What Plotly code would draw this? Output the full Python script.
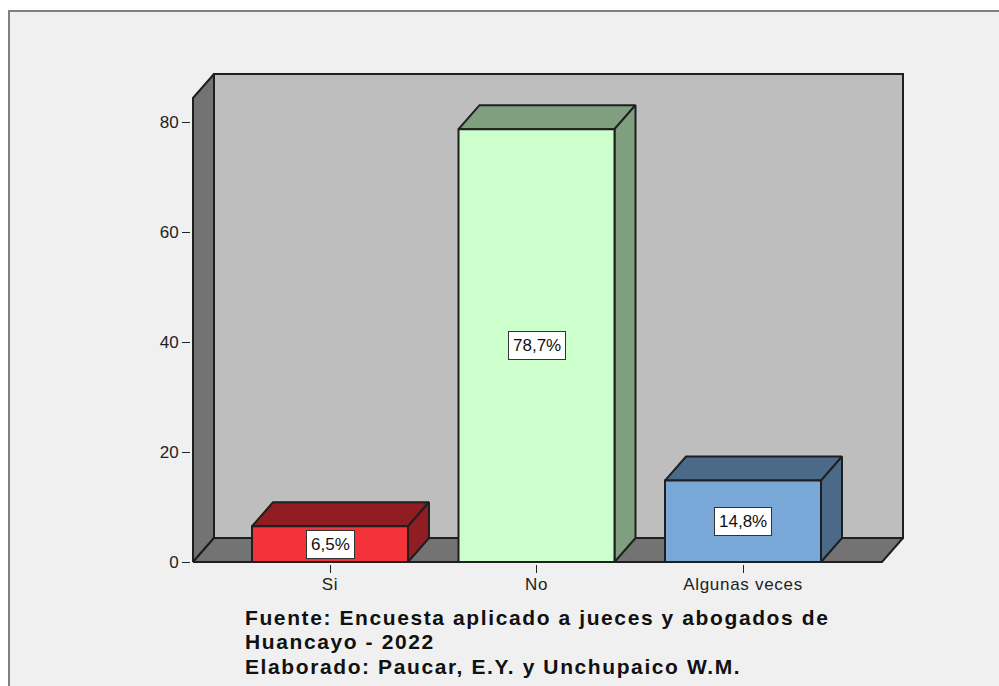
import plotly.graph_objects as go

# data
categories = ["Si", "No", "Algunas veces"]
values = [6.5, 78.7, 14.8]
value_labels = ["6,5%", "78,7%", "14,8%"]
y_ticks = [0, 20, 40, 60, 80]
front_colors = ["#f33339", "#ccffcc", "#79a8d8"]
shade_colors = ["#8f1d21", "#7f9f7f", "#4a6a88"]
foot_lines = ["Fuente: Encuesta aplicado a jueces y abogados de",
              "Huancayo - 2022",
              "Elaborado: Paucar, E.Y. y Unchupaico W.M."]
foot_y = [617, 641, 666]

W, H = 999, 686
PL, PR, PT, PB = 193, 903, 74, 562
PAD = 2                      # room so the frame lines are not clipped
UX, UY = 206.5, 5.5          # pixels per data unit
X0 = (PL - 330) / UX         # left of the front plane
X1 = (PR - 330) / UX         # right of the back plane
Y_MAX = (PB - PT) / UY
DX, DY = 21 / UX, 24 / UY    # oblique depth
BAR_W = 156 / UX
EDGE = "#1f1f1f"


def paper_x(px):
    return (px - (PL - PAD)) / (PR - PL + 2 * PAD)


def paper_y(py):
    return ((PB + PAD) - py) / (PB - PT + 2 * PAD)


fig = go.Figure()


def face(xs, ys, color, width=2):
    fig.add_trace(go.Scatter(x=xs + xs[:1], y=ys + ys[:1], mode="lines", fill="toself",
                             fillcolor=color, line=dict(color=EDGE, width=width),
                             hoverinfo="skip", showlegend=False))


FX1 = X1 - DX
# walls
face([X0 + DX, X1, X1, X0 + DX], [DY, DY, Y_MAX, Y_MAX], "#bebebe")
face([X0, X0 + DX, X0 + DX, X0], [0, DY, Y_MAX, Y_MAX - DY], "#737373")
face([X0, X0 + DX, X1, FX1], [0, DY, DY, 0], "#737373")

# bars
for i, v in enumerate(values):
    l, r = i - BAR_W / 2, i + BAR_W / 2
    face([l, l + DX, r + DX, r], [v, v + DY, v + DY, v], shade_colors[i])
    face([r, r + DX, r + DX, r], [0, DY, v + DY, v], shade_colors[i])
    face([l, r, r, l], [0, 0, v, v], front_colors[i])

annotations = [
    dict(x=i, y=v / 2, xref="x", yref="y", text=t, showarrow=False,
         font=dict(family="Liberation Sans", size=17, color="#111"),
         bgcolor="white", bordercolor="#333", borderwidth=1, borderpad=4)
    for i, (v, t) in enumerate(zip(values, value_labels))
]
for line, py in zip(foot_lines, foot_y):
    annotations.append(dict(
        x=paper_x(243), y=paper_y(py), xref="paper", yref="paper",
        xanchor="left", yanchor="middle", align="left",
        text=f"<b>{line}</b>", showarrow=False,
        font=dict(family="Liberation Sans", size=21, color="#111")))

fig.update_layout(
    width=W, height=H,
    margin=dict(l=PL - PAD, r=W - PR - PAD, t=PT - PAD, b=H - PB - PAD, autoexpand=False),
    paper_bgcolor="white", plot_bgcolor="#f0f0f0", showlegend=False,
    font=dict(family="Liberation Sans", size=17, color="#222"),
    xaxis=dict(range=[X0 - PAD / UX, X1 + PAD / UX], tickmode="array", tickvals=[0, 1, 2],
               ticktext=categories, ticks="outside", ticklen=8, tickwidth=1, tickcolor="#222",
               ticklabelstandoff=-3, showgrid=False, zeroline=False, showline=False),
    yaxis=dict(range=[-PAD / UY, Y_MAX + PAD / UY], tickmode="array", tickvals=y_ticks,
               ticks="outside", ticklen=8, tickwidth=1, tickcolor="#222",
               showgrid=False, zeroline=False, showline=False),
    annotations=annotations,
    shapes=[dict(type="rect", layer="below", xref="paper", yref="paper",
                 x0=paper_x(9), x1=paper_x(W + 20),
                 y0=paper_y(H + 20), y1=paper_y(11),
                 fillcolor="#f0f0f0", line=dict(color="#808080", width=2))],
)

post = """
document.body.style.margin='0';
document.documentElement.style.overflow='hidden';
document.querySelectorAll('.annotation-text').forEach(function(t){
  if(t.textContent.length>6){t.style.letterSpacing='1.6px';}
});
document.querySelectorAll('.xtick text').forEach(function(t){t.style.letterSpacing='0.7px';});
"""
fig.write_html("out.html", post_script=post, config={"displayModeBar": False})
